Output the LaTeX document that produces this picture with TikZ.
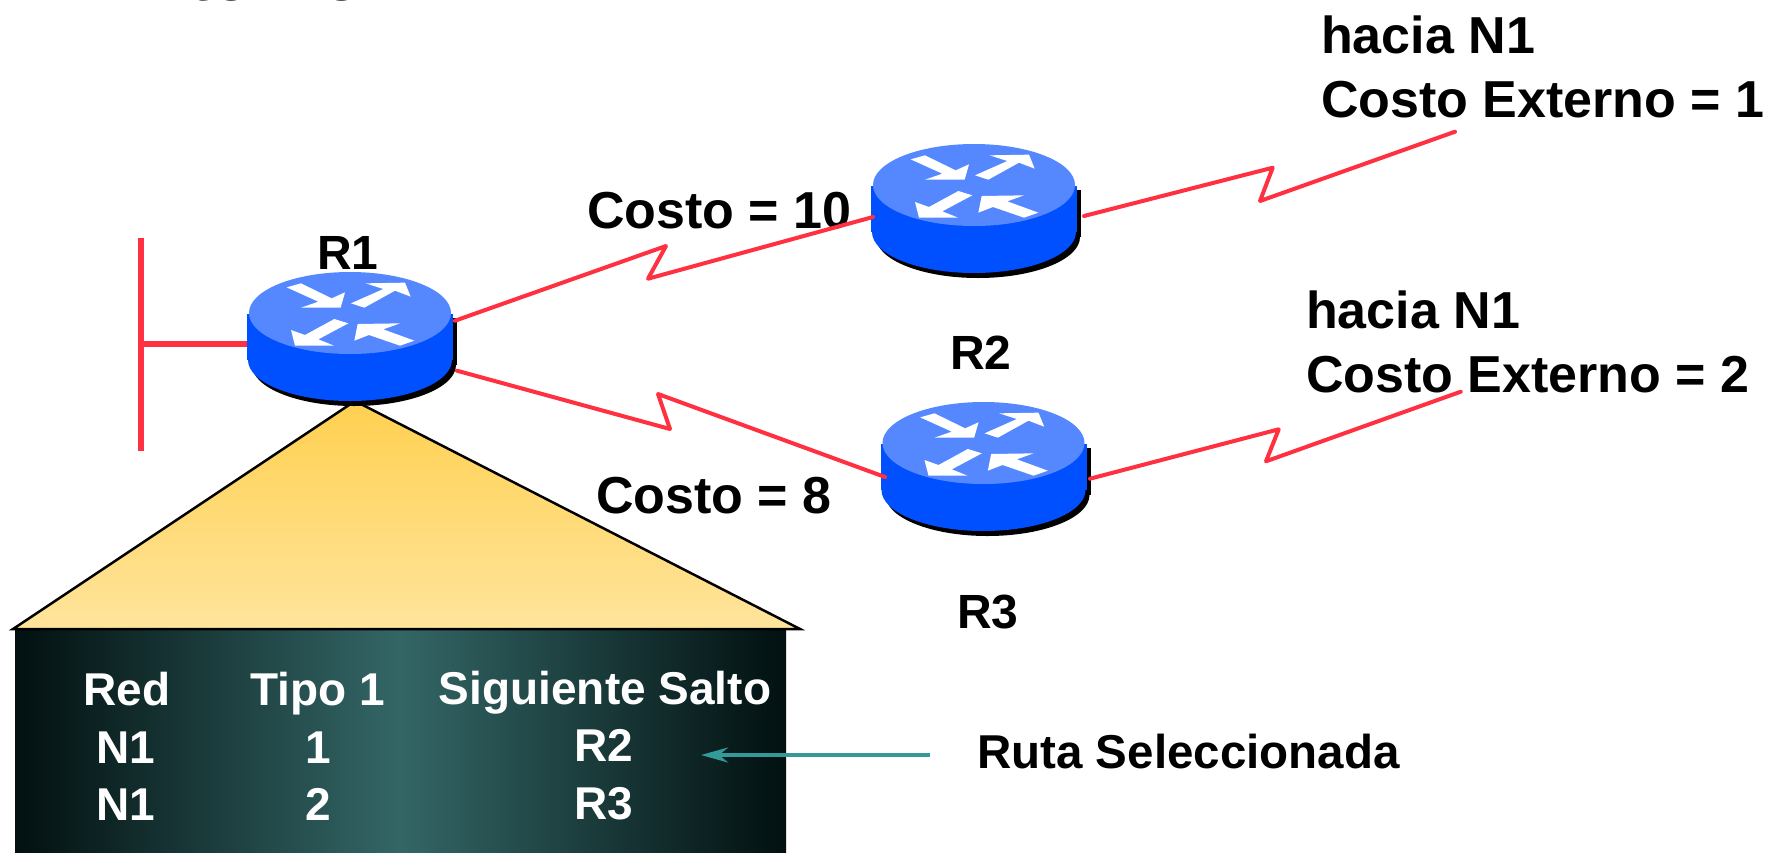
\documentclass[tikz,border=0pt]{standalone}
\usepackage{fontspec}
\setmainfont{Liberation Sans}
\usetikzlibrary{calc,arrows.meta}
\definecolor{lnkred}{HTML}{FF3040}
\definecolor{rtop}{HTML}{5588FF}
\definecolor{rside}{HTML}{0050FF}
\definecolor{tealarrow}{HTML}{339999}
\definecolor{tabdark}{HTML}{021010}
\definecolor{tabmid}{HTML}{346666}
\definecolor{triA}{HTML}{FFD050}
\definecolor{triB}{HTML}{FFE49C}
\newcommand{\fs}[1]{\fontsize{#1}{#1}\selectfont\bfseries}
\tikzset{
  x=1pt,y=-1pt,
  lnk/.style={draw=lnkred,line width=4pt,line join=round,line cap=round},
  lan/.style={draw=lnkred,line width=6pt},
  blk/.style={anchor=base west,inner sep=0pt,text=black,font=\fs{52}},
  rlabel/.style={anchor=base,inner sep=0pt,text=black,font=\fs{48}},
  cell/.style={anchor=base,inner sep=0pt,text=white,font=\fs{46}},
  router/.pic={
    \fill[black] (-103+4,5) rectangle (103+4,47+5);
    \fill[black] (4,47+5) ellipse [x radius=102,y radius=41];
    \fill[rside] (-103,1) rectangle (103,47);
    \fill[rside] (0,47) ellipse [x radius=102,y radius=41];
    \fill[rtop] (0,0) ellipse [x radius=101,y radius=41];
    \begin{scope}[scale=0.33333,shift={(-390,-189)}]
      \fill[white] (200,112)--(243,100)--(335,145)--(375,127)--(362,173)--(243,173)--(295,155)--cycle;
      \fill[white] (393,160)--(490,117)--(437,100)--(555,98)--(572,140)--(525,122)--(433,173)--cycle;
      \fill[white] (385,220)--(343,207)--(255,255)--(213,240)--(225,287)--(342,287)--(295,268)--cycle;
      \fill[white] (583,272)--(540,287)--(447,255)--(403,272)--(413,222)--(540,220)--(490,238)--cycle;
    \end{scope}
  }
}
\begin{document}
\begin{tikzpicture}
\useasboundingbox (0,0) rectangle (1782,852);
\node[anchor=base west,inner sep=0pt,font=\fs{70}] (title) at (126,0) {Interno};
% table and magnifier triangle
\path[left color=tabdark,right color=tabdark,middle color=tabmid] (15,629) rectangle (786,852);
\path[top color=triA,bottom color=triB] (13,629)--(355,401)--(800,629)--cycle;
\draw[black,line width=2.5pt,line join=miter] (13,629)--(355,401)--(800,629)--cycle;
% LAN stub
\coordinate (lanA) at (141,238);
\coordinate (lanB) at (141,451);
\coordinate (lanC) at (141,344);
\draw[lan] (lanA)--(lanB);
% routers
\coordinate (r1) at (350,313);
\coordinate (r2) at (974,185);
\coordinate (r3) at (983.5,443);
\draw[lan] (lanC)--($(r1)+(-100,31)$);
\pic at (r1) {router};
\pic at (r2) {router};
\pic at (r3) {router};
% labels
\node[rlabel] (lr1) at (348,269) {R1};
\node[rlabel] (lr2) at (981,369) {R2};
\node[rlabel] (lr3) at (988,628) {R3};
\node[blk] (c10) at (587,228) {Costo = 10};
\node[blk] (c8) at (596,513) {Costo = 8};
\node[blk] (h1) at (1321,53) {hacia N1};
\node[blk] (e1) at (1321,117) {Costo Externo = 1};
\node[blk] (h2) at (1306,328) {hacia N1};
\node[blk] (e2) at (1306,392) {Costo Externo = 2};
\node[anchor=base west,inner sep=0pt,font=\fs{47.5}] (ruta) at (977,768) {Ruta Seleccionada};
% WAN links
\coordinate (n1a) at (1455,131.7);
\coordinate (n1b) at (1460.7,391.7);
\draw[lnk] ($(r1)+(105,7.7)$)--(666,246)--(648,278.7)--($(r2)+(-101,32)$);
\draw[lnk] ($(r1)+(107,57.7)$)--(670,429)--(658,394)--($(r3)+(-98.5,34)$);
\draw[lnk] ($(r2)+(110,31)$)--(1272.7,167.7)--(1260,201)--(n1a);
\draw[lnk] ($(r3)+(106.5,35.7)$)--(1278.7,429.3)--(1266,461.3)--(n1b);
% table text
\node[cell] (hRed) at (127,705) {Red};
\node[cell] (hTipo) at (318,705) {Tipo 1};
\node[cell] (hSig) at (605,704) {Siguiente Salto};
\node[cell] (a1) at (126,763) {N1};
\node[cell] (a2) at (318,763) {1};
\node[cell] (a3) at (604,761) {R2};
\node[cell] (b1) at (126,820) {N1};
\node[cell] (b2) at (318,820) {2};
\node[cell] (b3) at (604,819) {R3};
% selected route arrow
\coordinate (arS) at (930,755);
\coordinate (arE) at (701,755);
\draw[tealarrow,line width=3.5pt,-{Stealth[length=27pt,width=15pt,inset=9pt]}] (arS)--(arE);
\end{tikzpicture}
\end{document}
